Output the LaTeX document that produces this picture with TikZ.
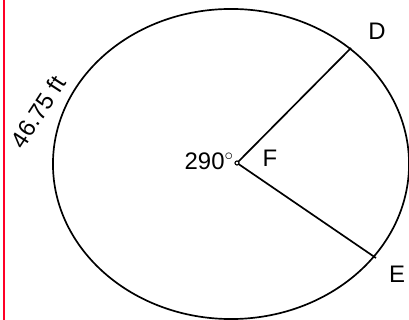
\documentclass[tikz,border=0pt]{standalone}
\usepackage{fontspec}
\setmainfont{Liberation Sans}
\usetikzlibrary{positioning,calc}
\tikzset{radius line/.style={line width=1.2pt}}
\tikzset{hand/.style={font=\fontsize{17}{19}\selectfont, inner sep=0pt}}
\begin{document}
\begin{tikzpicture}[x=0.025cm, y=-0.025cm]
\useasboundingbox (0,0) rectangle (409,320);

% Rand
\draw [line width=1.2pt, red!85!magenta] (4,0) -- (4,320);

% Kreis
\coordinate (M) at (231,164);
\draw [radius line] (M) ellipse [x radius=4.45cm, y radius=3.875cm];

% Punkte
\coordinate (F) at (237,163);
\coordinate (D) at (351,48);
\coordinate (E) at (376,258);

% Radien
\draw [radius line] (F) -- (D);
\draw [radius line] (F) -- (E);
\draw [line width=0.8pt, fill=white] (F) circle [radius=0.05cm];

% Beschriftung
\node (labD) [hand] at (377,31) {D};
\node (labE) [hand] at (397,274) {E};
\node (labF) [hand] at (270,158) {F};
\node (angle) [hand, anchor=east] at (234,161) {290$^{\circ}$};
\node (arc) [hand, rotate=57] at (38,112) {46.75 ft};

\end{tikzpicture}
\end{document}
